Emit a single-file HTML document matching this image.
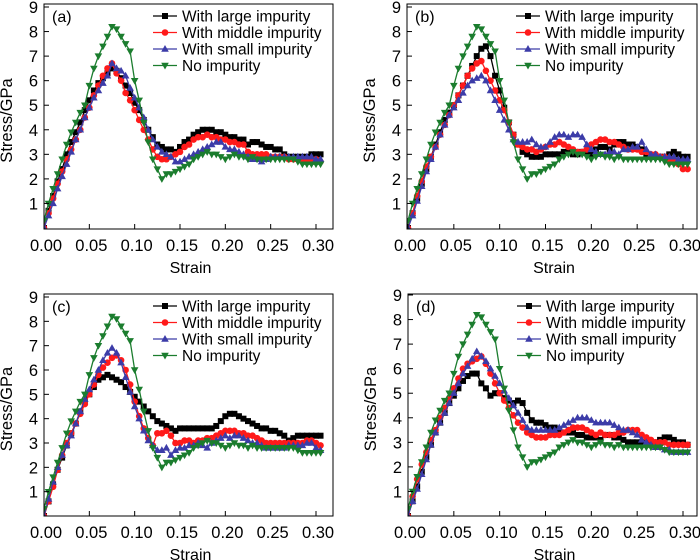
<!DOCTYPE html>
<html><head><meta charset="utf-8"><style>
body{margin:0;background:#fff;}
svg{display:block;font-family:"Liberation Sans",Arial,sans-serif;}
</style></head><body>
<svg id="fig" width="700" height="560" viewBox="0 0 700 560" xmlns="http://www.w3.org/2000/svg"></svg>
<script>
const strainStep = 0.005;
const xTicks = [0, 0.05, 0.10, 0.15, 0.20, 0.25, 0.30];
const xTickLabels = ["0.00","0.05","0.10","0.15","0.20","0.25","0.30"];
const yTicks = [1,2,3,4,5,6,7,8,9];
const seriesNames = ["With large impurity","With middle impurity","With small impurity","No impurity"];
const panelLabels = ["(a)","(b)","(c)","(d)"];

const noImpurity = [0.3,1.0,1.6,2.2,2.8,3.4,3.9,4.3,4.7,5.0, 5.8,6.5,7.0,7.4,7.8,8.2,8.1,7.8,7.5,7.2, 6.0,5.2,4.3,3.5,2.8,2.4,2.0,2.2,2.2,2.3, 2.4,2.5,2.6,2.8,2.9,3.0,3.1,3.0,3.0,2.9, 2.8,2.9,3.0,2.9,2.9,2.8,2.9,2.8,2.8,2.8, 2.8,2.8,2.8,2.8,2.8,2.8,2.7,2.6,2.6,2.6, 2.6,2.6];

const aLarge = [0,0.7,1.3,1.9,2.4,3.0,3.5,3.9,4.3,4.8, 5.2,5.6,5.9,6.1,6.3,6.5,6.4,6.1,5.8,5.5, 5.1,4.8,4.4,4.0,3.7,3.4,3.3,3.2,3.2,3.1, 3.3,3.5,3.6,3.8,3.9,4.0,4.0,4.0,3.9,3.9, 3.8,3.7,3.7,3.6,3.6,3.4,3.5,3.5,3.4,3.3, 3.3,3.2,3.2,3.0,2.9,2.9,2.9,2.9,2.9,3.0, 3.0,3.0];
const aMiddle = [0,0.6,1.2,1.8,2.3,2.8,3.2,3.6,4.0,4.5, 4.9,5.4,5.8,6.2,6.5,6.7,6.3,6.0,5.5,5.2, 4.8,4.4,4.0,3.6,3.2,2.9,2.8,2.8,2.9,3.0, 3.1,3.3,3.4,3.6,3.7,3.7,3.8,3.7,3.7,3.6, 3.6,3.5,3.5,3.4,3.4,3.1,3.0,3.0,3.0,3.0, 2.9,2.9,2.9,2.9,2.8,2.8,2.8,2.8,2.8,2.8, 2.8,2.7];
const aSmall = [0,0.5,1.0,1.6,2.1,2.6,3.1,3.6,4.0,4.5, 4.9,5.3,5.6,5.9,6.2,6.7,6.5,6.4,6.2,5.7, 5.3,4.9,4.5,4.0,3.6,3.3,3.1,3.0,2.9,2.7, 2.7,2.8,2.9,3.0,3.1,3.2,3.3,3.4,3.5,3.5, 3.3,3.2,3.2,3.1,3.0,2.9,2.8,2.8,2.7,2.8, 2.9,2.9,2.9,2.9,2.9,2.9,2.9,2.9,2.9,2.9, 2.8,2.8];

const bLarge = [0,0.6,1.2,1.8,2.4,2.9,3.4,3.9,4.4,4.7, 5.0,5.4,5.8,6.2,6.6,7.0,7.3,7.4,7.0,6.2, 5.6,4.9,4.3,3.8,3.4,3.1,3.0,2.9,2.9,2.9, 3.0,3.0,3.0,3.0,3.1,3.1,3.0,3.0,3.1,3.1, 3.0,3.2,3.3,3.3,3.2,3.4,3.5,3.5,3.4,3.4, 3.3,3.2,3.0,2.9,2.9,2.9,2.9,3.0,3.1,3.0, 2.9,2.9];
const bMiddle = [0,0.6,1.3,1.9,2.5,2.9,3.3,3.8,4.2,4.6, 5.0,5.4,5.8,6.2,6.5,6.7,6.8,6.4,6.0,5.6, 5.2,4.8,4.3,3.8,3.4,3.3,3.2,3.2,3.1,3.2, 3.3,3.4,3.4,3.5,3.4,3.3,3.2,3.1,3.1,3.2, 3.4,3.5,3.6,3.6,3.5,3.5,3.4,3.3,3.2,3.2, 3.2,3.1,3.1,3.0,3.0,2.9,2.9,2.8,2.7,2.6, 2.4,2.4];
const bSmall = [0,0.5,1.1,1.7,2.3,2.8,3.3,3.8,4.2,4.6, 4.9,5.2,5.5,5.8,6.0,6.1,6.2,6.0,5.6,5.2, 4.8,4.4,4.0,3.6,3.5,3.5,3.5,3.6,3.4,3.3, 3.3,3.5,3.7,3.8,3.8,3.7,3.8,3.8,3.7,3.4, 3.2,3.1,3.0,3.0,3.1,3.1,3.0,3.2,3.2,3.3, 3.3,3.5,3.2,3.0,3.0,2.9,2.9,2.9,2.9,2.8, 2.8,2.8];

const cLarge = [0,0.6,1.3,1.9,2.4,2.9,3.4,3.8,4.3,4.7, 5.0,5.3,5.6,5.7,5.8,5.7,5.6,5.5,5.3,5.1, 4.9,4.7,4.5,4.3,4.1,3.9,3.8,3.7,3.6,3.5, 3.6,3.6,3.6,3.6,3.6,3.6,3.6,3.6,3.7,3.9, 4.1,4.2,4.2,4.1,4.0,3.9,3.8,3.7,3.6,3.6, 3.5,3.5,3.4,3.3,3.1,3.2,3.3,3.3,3.3,3.3, 3.3,3.3];
const cMiddle = [0,0.6,1.2,1.9,2.5,3.0,3.4,3.8,4.2,4.6, 5.0,5.4,5.8,6.1,6.3,6.5,6.6,6.4,6.0,5.4, 4.7,4.1,3.6,3.2,2.9,3.4,3.4,3.5,3.3,3.0, 3.0,3.1,3.1,3.0,3.1,3.1,3.2,3.2,3.3,3.4, 3.5,3.5,3.5,3.4,3.4,3.3,3.3,3.2,3.1,3.0, 3.0,3.0,3.0,3.0,3.0,3.0,3.0,3.0,3.1,3.1, 3.0,2.9];
const cSmall = [0,0.7,1.4,2.0,2.5,2.9,3.3,3.8,4.3,4.8, 5.2,5.6,6.0,6.4,6.7,6.9,6.7,6.3,5.7,5.1, 4.5,4.0,3.5,3.1,2.9,2.7,2.7,2.8,2.5,2.7, 2.8,2.8,2.9,2.9,3.0,2.9,2.8,3.0,3.1,3.2, 3.3,3.2,3.3,3.3,3.2,3.1,3.0,3.0,2.9,2.8, 2.8,2.8,2.8,2.8,2.9,2.9,2.9,2.9,3.0,3.0, 2.8,2.7];

const dLarge = [0,0.6,1.2,1.8,2.4,2.9,3.4,3.8,4.2,4.6, 4.9,5.2,5.5,5.7,5.8,5.8,5.4,5.2,4.9,5.0, 5.0,4.8,4.7,4.6,4.7,4.6,4.2,3.9,3.8,3.8, 3.7,3.6,3.6,3.5,3.4,3.4,3.4,3.3,3.3,3.2, 3.2,3.2,3.1,3.3,3.3,3.2,3.2,3.1,3.0,3.0, 3.0,3.0,3.0,3.0,3.0,3.1,3.2,3.2,3.1,3.0, 3.0,2.9];
const dMiddle = [0,0.8,1.5,2.1,2.6,3.1,3.5,4.0,4.4,4.8, 5.2,5.6,6.0,6.2,6.3,6.4,6.5,6.2,5.8,5.4, 5.0,4.7,4.4,4.1,3.8,3.6,3.4,3.3,3.2,3.2, 3.2,3.3,3.3,3.3,3.4,3.5,3.6,3.6,3.6,3.5, 3.4,3.3,3.4,3.3,3.3,3.3,3.4,3.4,3.5,3.5, 3.5,3.3,3.2,3.1,3.0,3.0,3.0,2.9,2.9,2.9, 2.9,2.9];
const dSmall = [0,0.6,1.1,1.7,2.3,2.9,3.4,3.8,4.2,4.6, 5.0,5.4,5.8,6.1,6.4,6.7,6.5,6.3,6.0,5.7, 5.4,5.1,4.8,4.5,4.2,3.9,3.6,3.5,3.5,3.5, 3.5,3.5,3.5,3.6,3.7,3.8,3.9,4.0,4.0,4.0, 3.9,3.8,3.8,3.8,3.8,3.7,3.6,3.5,3.5,3.4, 3.3,3.1,3.0,2.9,2.8,2.8,2.7,2.7,2.6,2.6, 2.6,2.6];

const panelData = [
  [aLarge,aMiddle,aSmall,noImpurity],
  [bLarge,bMiddle,bSmall,noImpurity],
  [cLarge,cMiddle,cSmall,noImpurity],
  [dLarge,dMiddle,dSmall,noImpurity]
];
const panels = [
  {L:44,R:333,T:4,B:229,x0:44,x30:316,y0:228,y9:7},
  {L:407,R:697,T:4,B:229,x0:408,x30:683,y0:228,y9:7},
  {L:44,R:333,T:294,B:516,x0:44,x30:316,y0:516,y9:297},
  {L:408,R:697,T:294,B:516,x0:408,x30:683,y0:516,y9:295}
];
const colors = ["#000000","#ff1a1a","#3c3ca8","#1b7d2e"];
const markerKeys = ["square","circle","triangle-up","triangle-down"];

const NS = "http://www.w3.org/2000/svg";
const svg = document.getElementById("fig");
function mk(tag, attrs, parent){
  const e = document.createElementNS(NS, tag);
  for (const k in attrs) e.setAttribute(k, attrs[k]);
  (parent||svg).appendChild(e);
  return e;
}
function marker(kind, x, y, color, g){
  let m;
  if (kind==="square") m = mk("rect",{x:x-3,y:y-3,width:6,height:6,fill:color},g);
  else if (kind==="circle") m = mk("circle",{cx:x,cy:y,r:3.3,fill:color},g);
  else if (kind==="triangle-up") m = mk("polygon",{points:`${x},${y-4} ${x-3.8},${y+2.7} ${x+3.8},${y+2.7}`,fill:color},g);
  else m = mk("polygon",{points:`${x},${y+4} ${x-3.8},${y-2.7} ${x+3.8},${y-2.7}`,fill:color},g);
  return m;
}

panels.forEach((p, pi) => {
  const xs = v => p.x0 + (p.x30 - p.x0) * v / 0.30;
  const ys = v => p.y0 - (p.y0 - p.y9) * v / 9;
  const g = mk("g",{});
  
  

  const clipId = "clip" + pi;
  const cp = mk("clipPath",{id:clipId},g);
  mk("rect",{x:p.L,y:p.T,width:p.R-p.L,height:p.B-p.T},cp);

  panelData[pi].forEach((arr, si) => {
    const sg = mk("g",{"clip-path":`url(#${clipId})`},g);
    
    
    const pts = arr.map((v,i)=>`${xs(i*strainStep).toFixed(1)},${ys(v).toFixed(1)}`).join(" ");
    const line = mk("polyline",{points:pts,fill:"none",stroke:colors[si],"stroke-width":1.3},sg);
    
    
    arr.forEach((v,i)=>{
      const m = marker(markerKeys[si], xs(i*strainStep), ys(v), colors[si], sg);
      
      
    });
  });

  const fr = mk("rect",{x:p.L,y:p.T,width:p.R-p.L,height:p.B-p.T,fill:"none",stroke:"#000","stroke-width":1},g);
  
  

  xTicks.forEach((t,i)=>{
    const x = xs(t);
    mk("line",{x1:x,y1:p.B,x2:x,y2:p.B-5,stroke:"#000","stroke-width":1},g);
    const tx = mk("text",{x:x+2,y:p.B+22,"font-size":16.5,"text-anchor":"middle",fill:"#000"},g);
    tx.textContent = xTickLabels[i];
    
    
  });
  yTicks.forEach(t=>{
    const y = ys(t);
    mk("line",{x1:p.L,y1:y,x2:p.L+5,y2:y,stroke:"#000","stroke-width":1},g);
    const tx = mk("text",{x:p.L-6,y:y+6,"font-size":16.5,"text-anchor":"end",fill:"#000"},g);
    tx.textContent = String(t);
    
    
  });
  const xt = mk("text",{x:(p.L+p.R)/2+2,y:p.B+44,"font-size":16,"text-anchor":"middle",fill:"#000"},g);
  xt.textContent = "Strain";
  
  
  const ycx = p.L - 32, ycy = (p.T + p.B)/2 + 4;
  const yt = mk("text",{x:ycx,y:ycy,"font-size":16.5,"text-anchor":"middle",fill:"#000",transform:`rotate(-90 ${ycx} ${ycy})`},g);
  yt.textContent = "Stress/GPa";
  
  

  const pl = mk("text",{x:p.L+8,y:p.T+18,"font-size":16,fill:"#000"},g);
  pl.textContent = panelLabels[pi];
  
  

  const lg = mk("g",{},g);
  
  
  seriesNames.forEach((nm, si)=>{
    const cy = p.T + 12 + 16.5*si;
    const eg = mk("g",{},lg);
    
    
    mk("line",{x1:p.L+109,y1:cy,x2:p.L+133,y2:cy,stroke:colors[si],"stroke-width":1.3},eg);
    marker(markerKeys[si], p.L+121, cy, colors[si], eg);
    const t = mk("text",{x:p.L+138,y:cy+5.5,"font-size":15.5,fill:"#000"},eg);
    t.textContent = nm;
  });
});
</script>
</body></html>
